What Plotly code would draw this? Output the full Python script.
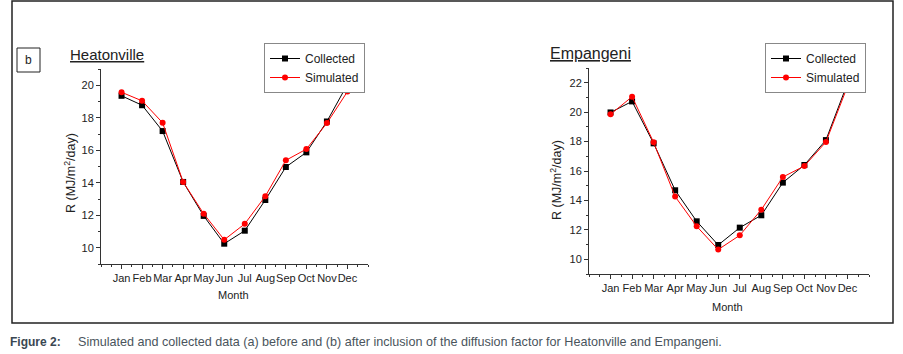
import plotly.graph_objects as go

months = ["Jan", "Feb", "Mar", "Apr", "May", "Jun", "Jul", "Aug", "Sep", "Oct", "Nov", "Dec"]
month_pos = list(range(1, 13))

heat_collected = [19.35, 18.77, 17.18, 14.05, 11.96, 10.25, 11.05, 12.94, 14.97, 15.87, 17.77, 20.06]
heat_simulated = [19.57, 19.04, 17.69, 14.05, 12.09, 10.49, 11.47, 13.17, 15.38, 16.07, 17.67, 19.61]

emp_collected = [19.98, 20.73, 17.88, 14.69, 12.58, 10.97, 12.15, 12.99, 15.21, 16.41, 18.10, 21.95]
emp_simulated = [19.85, 21.05, 17.95, 14.26, 12.24, 10.66, 11.63, 13.37, 15.59, 16.34, 17.97, 21.75]

W, H = 903, 354
def px(x):
    return x / W
def py(y):
    return 1 - y / H

FONT = "Arial, Liberation Sans, sans-serif"
fig = go.Figure()

def add_series(xa, ya, coll, sim, legend):
    fig.add_trace(go.Scatter(x=month_pos, y=coll, mode="lines+markers", name="Collected",
                             line=dict(color="black", width=1),
                             marker=dict(symbol="square", size=6, color="black"),
                             xaxis=xa, yaxis=ya, legend=legend))
    fig.add_trace(go.Scatter(x=month_pos, y=sim, mode="lines+markers", name="Simulated",
                             line=dict(color="red", width=1),
                             marker=dict(symbol="circle", size=6, color="red"),
                             xaxis=xa, yaxis=ya, legend=legend))

add_series("x", "y", heat_collected, heat_simulated, "legend")
add_series("x2", "y2", emp_collected, emp_simulated, "legend2")

def xaxis_cfg(dom, anchor):
    return dict(domain=dom, anchor=anchor, range=[0, 13], tickvals=month_pos, ticktext=months,
                tickangle=0,
                ticks="outside", ticklen=4, tickwidth=1, tickcolor="#333",
                showline=True, linecolor="#333", linewidth=1, showgrid=False, zeroline=False,
                tickfont=dict(family=FONT, size=11, color="#222"),
                minor=dict(tickmode="linear", tick0=0, dtick=0.5, ticks="outside", ticklen=2,
                           tickcolor="#333", showgrid=False))

def yaxis_cfg(dom, anchor, rng):
    return dict(domain=dom, anchor=anchor, range=rng, tickmode="linear", tick0=0, dtick=2,
                ticks="outside", ticklen=4, tickwidth=1, tickcolor="#333",
                showline=True, linecolor="#333", linewidth=1, showgrid=False, zeroline=False,
                tickfont=dict(family=FONT, size=11, color="#222"),
                minor=dict(tickmode="linear", tick0=1, dtick=2, ticks="outside", ticklen=2,
                           tickcolor="#333", showgrid=False))

def legend_cfg(x, y):
    return dict(x=px(x), y=py(y), xanchor="left", yanchor="top",
                bordercolor="#888", borderwidth=1, bgcolor="white",
                font=dict(family=FONT, size=12, color="#222"),
                tracegroupgap=0, itemwidth=30)

fig.update_layout(
    width=W, height=H, margin=dict(l=0, r=0, t=0, b=0),
    paper_bgcolor="white", plot_bgcolor="white",
    xaxis=xaxis_cfg([px(101), px(368)], "y"),
    yaxis=yaxis_cfg([py(264), py(69)], "x", [9, 21]),
    xaxis2=xaxis_cfg([px(589), px(869)], "y2"),
    yaxis2=yaxis_cfg([py(274), py(68)], "x2", [9, 23]),
    legend=legend_cfg(264, 43),
    legend2=legend_cfg(765, 43),
    showlegend=True,
)

# outer frame
fig.add_shape(type="rect", xref="paper", yref="paper", x0=px(12), x1=px(893), y0=py(323), y1=py(1),
              line=dict(color="#222", width=1.5))
# "b" box
fig.add_shape(type="rect", xref="paper", yref="paper", x0=px(17), x1=px(40), y0=py(72), y1=py(48),
              line=dict(color="#222", width=1))

def ann(text, x, y, size=11, angle=0, xanchor="center", color="#222", family=FONT):
    fig.add_annotation(text=text, x=px(x), y=py(y), xref="paper", yref="paper", showarrow=False,
                       xanchor=xanchor, yanchor="middle", textangle=angle,
                       font=dict(family=family, size=size, color=color))

ann("b", 28.5, 60, size=12)
ann("<u>Heatonville</u>", 68, 54, size=15, xanchor="left")
ann("<u>Empangeni</u>", 548, 53, size=16, xanchor="left")
ann("Month", 234, 295, size=11)
ann("Month", 727, 307, size=11)
ann("R (MJ/m<sup>2</sup>/day)", 70, 173, size=12.5, angle=-90)
ann("R (MJ/m<sup>2</sup>/day)", 556, 180, size=12.5, angle=-90)

CAP = "Liberation Sans Narrow, Arial Narrow, sans-serif"
ann("<b>Figure 2:</b>", 8, 342, size=12, xanchor="left", color="#3a4752", family=CAP)
ann("Simulated and collected data (a) before and (b) after inclusion of the diffusion factor for Heatonville and Empangeni.",
    76, 342, size=12.6, xanchor="left", color="#4a545c", family=CAP)

fig.write_html("out.html", config={"displayModeBar": False},
               post_script="document.body.style.margin='0px';document.body.style.overflow='hidden';")
